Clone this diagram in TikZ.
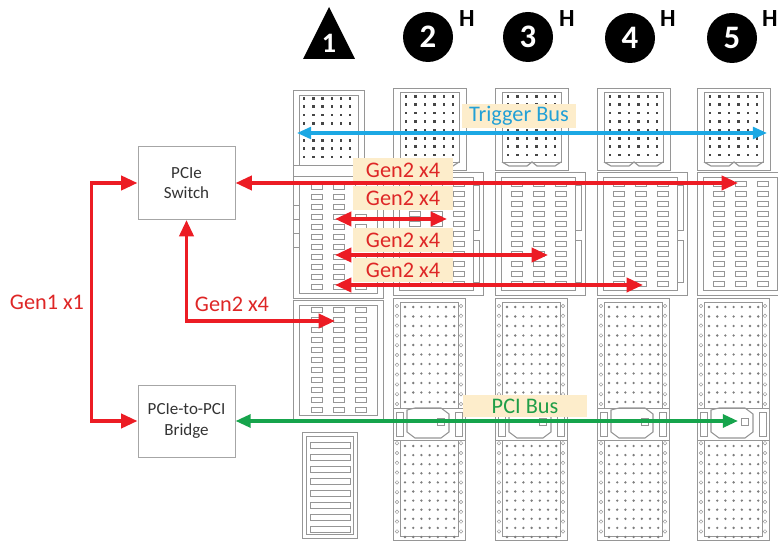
\documentclass[tikz,border=0pt]{standalone}
\usepackage{fontspec}
\setmainfont{Carlito}
\usetikzlibrary{arrows.meta}
\definecolor{busred}{RGB}{236,28,36}
\definecolor{busblue}{RGB}{28,168,228}
\definecolor{busgreen}{RGB}{22,164,76}
\definecolor{txtred}{RGB}{222,38,38}
\definecolor{txtblue}{RGB}{34,160,214}
\definecolor{txtgreen}{RGB}{32,158,72}
\definecolor{tagfill}{RGB}{253,237,203}
\definecolor{slotline}{RGB}{150,150,150}
\definecolor{dotdark}{RGB}{70,70,70}
\definecolor{dotlight}{RGB}{125,125,125}

\begin{document}
\begin{tikzpicture}[x=0.03cm, y=-0.03cm,
    box/.style={draw=gray!70, line width=0.8pt, minimum width=2.91cm, align=center,
      font=\fontsize{14.5}{17.5}\selectfont, text=black!80},
    redbus/.style={draw=busred, line width=3.2pt,
      {Triangle[length=14pt,width=12pt]}-{Triangle[length=14pt,width=12pt]}},
    bluebus/.style={draw=busblue, line width=2.6pt,
      {Triangle[length=12pt,width=10pt]}-{Triangle[length=12pt,width=10pt]}},
    greenbus/.style={draw=busgreen, line width=3pt,
      {Triangle[length=13pt,width=11pt]}-{Triangle[length=13pt,width=11pt]}},
    tag/.style={fill=tagfill, inner sep=0pt, minimum height=0.72cm,
      font=\fontsize{19}{22}\selectfont},
    plain/.style={inner sep=0pt, font=\fontsize{19}{22}\selectfont, text=txtred},
    slot/.style={draw=slotline, line width=0.6pt},
    slotnum/.style={circle, fill=black, minimum size=1.5cm, inner sep=0pt,
      text=white, font=\fontsize{28}{28}\bfseries},
    hmark/.style={inner sep=0pt, font=\fontsize{21}{21}\bfseries}
  ]
  \useasboundingbox (0,0) rectangle (778,545);

  % slot 1, top connector
  \draw[slot] (293,90) rectangle (364,176);
  \draw[slot] (299,95) rectangle (358,165);
  \foreach \c in {0,...,5}
    \foreach \r in {0,...,7}
      \fill[dotdark] (303+\c*9.2,97+\r*8.4) rectangle ++(2.4,2.6);
  \draw[slot] (293,165) -- (364,165);
  % slot 1, middle connector
  \draw[slot] (293,176) rectangle (383,298);
  \draw[slot] (299,181) rectangle (377,293);
  \foreach \c in {0,1,2}
    \foreach \r in {0,...,10}
      \draw[slot, line width=0.5pt] (311+\c*22,184+\r*10) rectangle ++(11,5);
  \foreach \r in {0,...,3}
    \draw[slot] (293,205+\r*14) -- (299,205+\r*14);
  % slot 1, lower connector
  \draw[slot] (293,300) rectangle (383,420);
  \draw[slot] (299,305) rectangle (377,415);
  \foreach \c in {0,1,2}
    \foreach \r in {0,...,10}
      \draw[slot, line width=0.5pt] (311+\c*22,307+\r*10) rectangle ++(11,5);
  % slot 1, bottom connector
  \draw[slot] (302,432) rectangle (357,538);
  \draw[slot] (306,436) rectangle (353,534);
  \foreach \r in {0,...,7}
    \draw[slot] (310,442+\r*12) rectangle ++(40,6);

  % slots 2 to 5
  \foreach \x in {393,495,597,697} {
    % top connector
    \draw[slot] (\x,88) rectangle (\x+73,170);
    \draw[slot] (\x+7,92) rectangle (\x+66,162);
    \foreach \c in {0,...,5}
      \foreach \r in {0,...,7}
        \fill[dotdark] (\x+12+\c*9.4,95+\r*8.4) rectangle ++(2.4,2.6);
    \draw[slot, line width=1pt] (\x+7,162) -- (\x+14,166) -- (\x+32,166)
      -- (\x+37,162) -- (\x+42,166) -- (\x+60,166) -- (\x+66,162);
    % middle connector
    \draw[slot] (\x,172) rectangle (\x+90,295);
    \draw[slot] (\x+6,177) rectangle (\x+80,290);
    \draw[slot] (\x+80,185) rectangle (\x+86,230);
    \draw[slot] (\x+80,240) rectangle (\x+86,282);
    \foreach \c in {0,1,2}
      \foreach \r in {0,...,10}
        \draw[slot, line width=0.5pt] (\x+16+\c*22,181+\r*10) rectangle ++(11,5);
    % lower connector with latch
    \draw[slot] (\x,298) rectangle (\x+72,540);
    \draw[slot] (\x+7,302) rectangle (\x+65,536);
    \foreach \r in {0,...,23}
      \draw[slot, line width=0.4pt] (\x+4,306+\r*9.8) circle (1.8)
        (\x+68,306+\r*9.8) circle (1.8);
    \foreach \c in {0,...,6}
      \foreach \r in {0,...,10} {
        \fill[dotlight] (\x+12+\c*8.2,307+\r*9.5) circle (1.3);
        \fill[dotlight] (\x+12+\c*8.2,446+\r*9.1) circle (1.3);
      }
    \fill[white] (\x+2,408) rectangle (\x+70,440);
    \draw[slot] (\x,408) -- (\x+72,408) (\x,440) -- (\x+72,440);
    \draw[slot, line width=0.9pt] (\x+14,410) -- (\x+22,408) -- (\x+48,408)
      -- (\x+56,414) -- (\x+56,432) -- (\x+48,438) -- (\x+22,438)
      -- (\x+14,432) -- cycle;
    \draw[slot] (\x+44,418) rectangle ++(7,7);
    \draw[slot] (\x+3,412) rectangle (\x+10,436) (\x+62,412) rectangle (\x+69,436);
  }

  % slot numbers
  \fill[black] (329,7) -- (355,59) -- (303,59) -- cycle;
  \node[inner sep=0pt, text=white, font=\fontsize{24}{24}\bfseries] (n1) at (329,43) {1};
  \node[slotnum] (n2) at (428,37) {2};
  \node[slotnum] (n3) at (528,37) {3};
  \node[slotnum] (n4) at (630,38) {4};
  \node[slotnum] (n5) at (732,38) {5};
  \foreach \i/\hx in {2/467,3/567,4/668,5/770}
    \node[hmark] (h\i) at (\hx,19) {H};

  % boxes
  \node[box, minimum height=2.19cm] (switch) at (186.5,183) {PCIe\\Switch};
  \node[box, minimum height=2.16cm] (bridge) at (186.5,421) {PCIe-to-PCI\\Bridge};

  % bus end points
  \coordinate (s1a) at (335,321);
  \coordinate (s5a) at (738,183);
  \coordinate (s1b) at (335,219);
  \coordinate (s2b) at (447,219);
  \coordinate (s1c) at (335,255);
  \coordinate (s3c) at (548,255);
  \coordinate (s1d) at (335,285);
  \coordinate (s4d) at (643,285);
  \coordinate (trg1) at (297,133);
  \coordinate (trg5) at (767,133);
  \coordinate (pci5) at (738,421);

  % labels
  \node[tag, minimum width=3cm, text=txtred] (lab1) at (403,170) {Gen2 x4};
  \node[tag, minimum width=3cm, text=txtred] (lab2) at (403,198) {Gen2 x4};
  \node[tag, minimum width=3cm, text=txtred] (lab3) at (403,240) {Gen2 x4};
  \node[tag, minimum width=3cm, text=txtred] (lab4) at (403,270) {Gen2 x4};
  \node[tag, minimum width=3.4cm, text=txtblue] (trig) at (519,116) {Trigger Bus};
  \node[tag, minimum width=3.7cm, minimum height=0.66cm, text=txtgreen] (pcib) at (525,406) {PCI Bus};
  \node[plain] (gen1) at (47,302) {Gen1 x1};
  \node[plain] (gen2) at (232,304) {Gen2 x4};

  % buses
  \draw[bluebus] (trg1) -- (trg5);
  \draw[redbus] (switch.east) -- (s5a);
  \draw[redbus] (s1b) -- (s2b);
  \draw[redbus] (s1c) -- (s3c);
  \draw[redbus] (s1d) -- (s4d);
  \draw[redbus] (switch.south) |- (s1a);
  \draw[redbus] (switch.west) -- ++(-46,0) |- (bridge.west);
  \draw[greenbus] (bridge.east) -- (pci5);
\end{tikzpicture}
\end{document}
